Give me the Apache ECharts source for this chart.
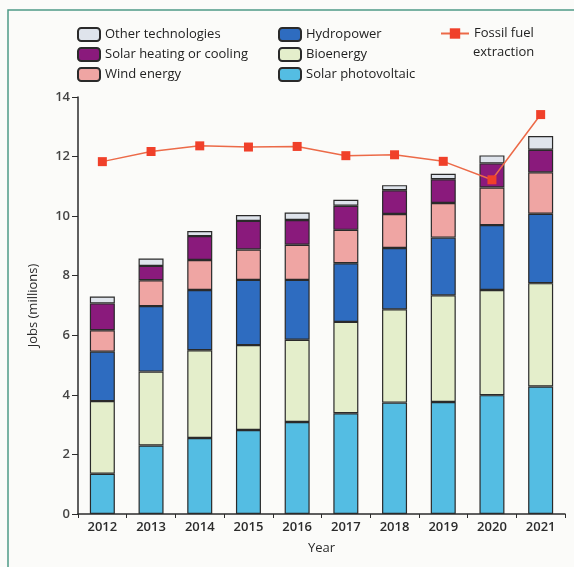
<!DOCTYPE html>
<html>
<head>
<meta charset="utf-8">
<script src="https://cdn.jsdelivr.net/npm/echarts@6/dist/echarts.min.js"></script>
<style>
  html, body { margin: 0; padding: 0; background: #fbfbf9; }
  #chart { width: 574px; height: 567px; }
</style>
</head>
<body>
<div id="chart"></div>
<script>
// years and stacked job counts (millions)
var years = ['2012', '2013', '2014', '2015', '2016', '2017', '2018', '2019', '2020', '2021']
var solarPV = [1.35, 2.30, 2.55, 2.82, 3.09, 3.38, 3.74, 3.76, 3.99, 4.28]
var bioenergy = [2.44, 2.48, 2.95, 2.85, 2.76, 3.07, 3.13, 3.58, 3.53, 3.47]
var hydropower = [1.66, 2.20, 2.02, 2.19, 2.01, 1.97, 2.06, 1.94, 2.18, 2.33]
var windEnergy = [0.72, 0.87, 1.01, 1.02, 1.18, 1.12, 1.14, 1.16, 1.26, 1.39]
var solarHeating = [0.90, 0.48, 0.80, 0.96, 0.83, 0.81, 0.80, 0.80, 0.81, 0.76]
var otherTech = [0.23, 0.25, 0.17, 0.20, 0.25, 0.20, 0.17, 0.18, 0.27, 0.46]
var fossilFuel = [11.83, 12.17, 12.36, 12.32, 12.34, 12.03, 12.06, 11.84, 11.22, 13.41]

var font = 'Open Sans'
var dark = '#2b2b2b'

function barSeries(name, data, color) {
  return {
    name: name,
    type: 'bar',
    stack: 'jobs',
    barWidth: 25,
    data: data,
    itemStyle: { color: color, borderColor: '#2a2a2a', borderWidth: 1.2 }
  }
}

var chart = echarts.init(document.getElementById('chart'))
var legendText = { fontFamily: font, fontSize: 13, color: '#222' }
var option = {
  backgroundColor: '#fbfbf9',
  animation: false,
  legend: [
    {
      orient: 'vertical', left: 77, top: 27, itemGap: 5, padding: 0,
      itemWidth: 22, itemHeight: 13, textStyle: legendText,
      data: ['Other technologies', 'Solar heating or cooling', 'Wind energy']
    },
    {
      orient: 'vertical', left: 278, top: 27, itemGap: 5, padding: 0,
      itemWidth: 22, itemHeight: 13, textStyle: legendText,
      data: ['Hydropower', 'Bioenergy', 'Solar photovoltaic']
    },
    {
      orient: 'vertical', left: 440, top: 27, padding: 0,
      itemWidth: 28, itemHeight: 13, textStyle: legendText,
      data: ['Fossil fuel extraction'],
      formatter: function () { return 'Fossil fuel' }
    }
  ],
  graphic: [
    {
      type: 'text', left: 473, top: 46,
      style: { text: 'extraction', font: '13px "Open Sans"', fill: '#222' }
    },
    {
      type: 'polyline', silent: true,
      shape: { points: [[8, 567], [8, 10], [574, 10]] },
      style: { stroke: '#4f9a86', lineWidth: 1.5, fill: null }
    }
  ],
  grid: { left: 78, right: 9, top: 97, bottom: 53 },
  xAxis: {
    type: 'category',
    data: years,
    name: 'Year',
    nameLocation: 'middle',
    nameGap: 28,
    nameTextStyle: { fontFamily: font, fontSize: 13, color: dark },
    axisLine: { lineStyle: { color: dark, width: 1.5 } },
    axisTick: { show: true, length: 4, lineStyle: { color: dark } },
    axisLabel: { fontFamily: font, fontSize: 13, color: dark, fontWeight: 600, margin: 7 }
  },
  yAxis: {
    type: 'value',
    min: 0,
    max: 14,
    interval: 2,
    name: 'Jobs (millions)',
    nameLocation: 'middle',
    nameGap: 38,
    nameTextStyle: { fontFamily: font, fontSize: 13, color: dark },
    axisLine: { show: true, lineStyle: { color: dark, width: 1.5 } },
    axisTick: { show: true, length: 6, lineStyle: { color: dark } },
    axisLabel: { fontFamily: font, fontSize: 13, color: '#444', fontWeight: 600, margin: 8 },
    splitLine: { show: false }
  },
  series: [
    barSeries('Solar photovoltaic', solarPV, '#54bde3'),
    barSeries('Bioenergy', bioenergy, '#e4eecb'),
    barSeries('Hydropower', hydropower, '#2e6cc0'),
    barSeries('Wind energy', windEnergy, '#efa5a3'),
    barSeries('Solar heating or cooling', solarHeating, '#8a1a7c'),
    barSeries('Other technologies', otherTech, '#dfe4ec'),
    {
      name: 'Fossil fuel extraction',
      type: 'line',
      data: fossilFuel,
      symbol: 'rect',
      symbolSize: 9,
      lineStyle: { color: '#ec6a48', width: 1.5 },
      itemStyle: { color: '#f0402a' },
      z: 5
    }
  ]
}
chart.setOption(option)
</script>
</body>
</html>
